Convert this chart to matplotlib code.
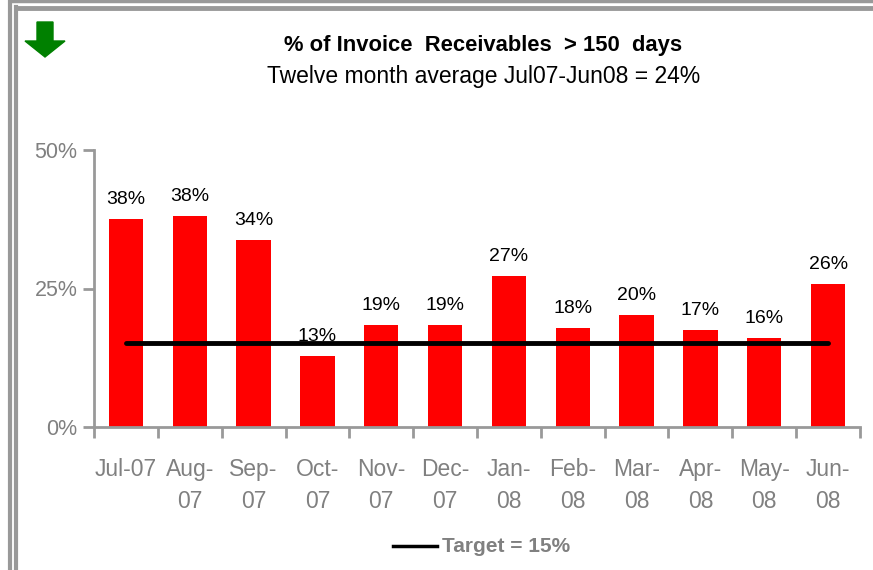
import matplotlib
matplotlib.use("Agg")
import matplotlib.pyplot as plt
from matplotlib.patches import Polygon
from matplotlib.lines import Line2D
import numpy as np

months = ["Jul-07", "Aug-\n07", "Sep-\n07", "Oct-\n07", "Nov-\n07", "Dec-\n07",
          "Jan-\n08", "Feb-\n08", "Mar-\n08", "Apr-\n08", "May-\n08", "Jun-\n08"]
values = [37.6, 38.1, 33.8, 12.8, 18.4, 18.4, 27.3, 17.9, 20.2, 17.5, 16.1, 25.8]
labels = ["38%", "38%", "34%", "13%", "19%", "19%", "27%", "18%", "20%", "17%", "16%", "26%"]
target = 15.2
yticks = [0, 25, 50]
ytick_labels = ["0%", "25%", "50%"]

plt.rcParams['font.family'] = ['Liberation Sans Narrow', 'Liberation Sans', 'DejaVu Sans']

fig = plt.figure(figsize=(8.73, 5.70), dpi=100)
W, H = 873, 570

def fx(x):
    return x / W

def fy(y):
    return 1 - y / H

# frame lines (gray borders)
gray = "#999999"
fig.add_artist(Line2D([fx(9.5), fx(9.5)], [0, 1], color=gray, lw=3))
fig.add_artist(Line2D([fx(15.5), fx(15.5)], [0, fy(7)], color=gray, lw=3))
fig.add_artist(Line2D([fx(15.5), 1], [fy(7.5), fy(7.5)], color=gray, lw=3.5))
fig.add_artist(Line2D([fx(9.5), 1], [fy(1), fy(1)], color=gray, lw=2.5))

# green arrow
arrow = [(fx(37), fy(22)), (fx(53), fy(22)), (fx(53), fy(41)), (fx(65), fy(41)),
         (fx(45), fy(57)), (fx(25), fy(41)), (fx(37), fy(41))]
fig.add_artist(Polygon(arrow, closed=True, color="#008000", transform=fig.transFigure))

# titles
fig.text(fx(483), fy(45), "% of Invoice  Receivables  > 150  days", ha="center", va="center",
         fontsize=15.8, fontweight="bold", color="black")
fig.text(fx(484), fy(77), "Twelve month average Jul07-Jun08 = 24%", ha="center", va="center",
         fontsize=16.5, color="black")

ax = fig.add_axes([fx(94), fy(427), fx(860) - fx(94), fy(150) - fy(427)])
x = np.arange(len(values))
ax.bar(x, values, width=0.54, color="#ff0000", zorder=2)
ax.plot([x[0], x[-1]], [target, target], color="black", lw=3.5, solid_capstyle="round", zorder=3)

for xi, v, lab in zip(x, values, labels):
    ax.text(xi, v + 2.0, lab, ha="center", va="bottom", fontsize=14, color="black")

ax.set_xlim(-0.5, len(values) - 0.5)
ax.set_ylim(0, 50)
ax.set_yticks(yticks)
ax.set_yticklabels(ytick_labels, fontsize=15.5, color="#808080")
ax.set_xticks(x)
ax.set_xticklabels(months, fontsize=16.5, color="#808080", linespacing=1.55)
ax.set_xticks(np.arange(-0.5, len(values), 1), minor=True)
ax.tick_params(axis="x", which="major", length=0, pad=22)
ax.tick_params(axis="x", which="minor", length=8, width=2, color="#999999", direction="out")
ax.tick_params(axis="y", length=8, width=2, color="#999999", direction="out", pad=4)
for s in ["top", "right"]:
    ax.spines[s].set_visible(False)
for s in ["left", "bottom"]:
    ax.spines[s].set_color("#999999")
    ax.spines[s].set_linewidth(2)
ax.set_facecolor("none")

# legend
fig.add_artist(Line2D([fx(393), fx(437)], [fy(546), fy(546)], color="black", lw=2.5))
fig.text(fx(442), fy(546), "Target = 15%", ha="left", va="center", fontsize=15,
         fontweight="bold", color="#808080")

fig.savefig("out.png", dpi=100)
